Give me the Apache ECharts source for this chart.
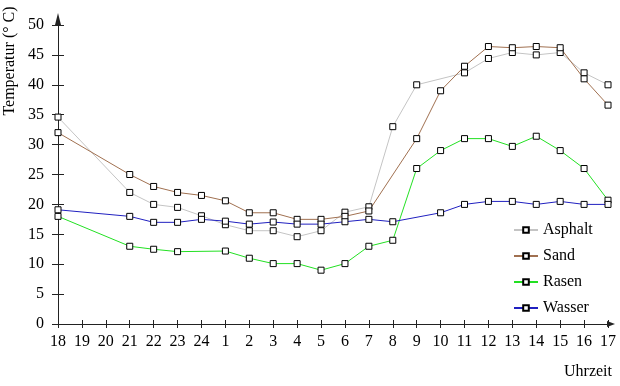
<!DOCTYPE html>
<html>
<head>
<meta charset="utf-8">
<script src="https://cdn.jsdelivr.net/npm/echarts@6/dist/echarts.min.js"></script>
<style>
  html, body { margin: 0; padding: 0; background: #fff; }
</style>
</head>
<body>
<!-- container sized to the reference picture -->
<div id="main" style="width: 620px; height: 386px;"></div>
<script>
var hours = ['18', '19', '20', '21', '22', '23', '24', '1', '2', '3', '4', '5',
  '6', '7', '8', '9', '10', '11', '12', '13', '14', '15', '16', '17']
// null = no measurement at that hour (line runs through)
var asphalt = [34.6, null, null, 22, 20, 19.5, 18.1, 16.6, 15.6, 15.6, 14.6, 15.6,
  18.7, 19.6, 33, 40, null, 42, 44.4, 45.4, 45, 45.4, 42, 40]
var sand = [32, null, null, 25, 23, 22, 21.5, 20.6, 18.6, 18.6, 17.5, 17.5,
  18, 18.9, null, 31, 39, 43.1, 46.4, 46.2, 46.4, 46.2, 41, 36.6]
var rasen = [18, null, null, 13, 12.5, 12.1, null, 12.2, 11, 10.1, 10.1, 9,
  10.1, 13, 14, 26, 29, 31, 31, 29.7, 31.4, 29, 26, 20.7]
var wasser = [19.1, null, null, 18, 17, 17, 17.5, 17.2, 16.7, 17.05, 16.7, 16.7,
  17.1, 17.5, 17.1, null, 18.6, 20, 20.5, 20.5, 20, 20.5, 20, 20]

var font = 'Liberation Serif'
var axisColor = '#222'

function makeSeries (name, color, data) {
  return {
    name: name,
    type: 'line',
    data: data,
    connectNulls: true,
    symbol: 'rect',
    symbolSize: 6,
    lineStyle: { color: color, width: 1 },
    itemStyle: { color: '#fff', borderColor: '#000', borderWidth: 1 },
    emphasis: { disabled: true }
  }
}

var chart = echarts.init(document.getElementById('main'))
chart.setOption({
  animation: false,
  grid: { left: 58, right: 12, top: 25, bottom: 62 },
  legend: {
    orient: 'vertical',
    left: 508,
    top: 217,
    itemWidth: 24,
    itemHeight: 7,
    itemGap: 10,
    textStyle: { fontFamily: font, fontSize: 16, color: '#000' },
    data: ['Asphalt', 'Sand', 'Rasen', 'Wasser']
  },
  xAxis: [
    {
      type: 'category',
      data: hours,
      boundaryGap: false,
      position: 'bottom',
      axisLine: {
        lineStyle: { color: axisColor, width: 1 },
        symbol: ['none', 'triangle'],
        symbolSize: [6, 8],
        symbolOffset: [0, 3]
      },
      axisTick: { inside: false, length: 4, lineStyle: { color: axisColor } },
      axisLabel: { color: '#000', fontFamily: font, fontSize: 16, margin: 10, interval: 0 },
      splitLine: { show: false }
    },
    {
      // second axis only to draw the inner half of the crossing ticks
      type: 'category',
      data: hours,
      boundaryGap: false,
      position: 'bottom',
      axisLine: { show: false },
      axisTick: { inside: true, length: 4, lineStyle: { color: axisColor } },
      axisLabel: { show: false },
      splitLine: { show: false }
    }
  ],
  yAxis: [
    {
      type: 'value',
      min: 0,
      max: 50,
      interval: 5,
      position: 'left',
      axisLine: {
        show: true,
        onZero: false,
        lineStyle: { color: axisColor, width: 1 },
        symbol: ['none', 'triangle'],
        symbolSize: [6, 12],
        symbolOffset: [0, 6]
      },
      axisTick: { show: true, inside: false, length: 6, lineStyle: { color: axisColor } },
      axisLabel: { color: '#000', fontFamily: font, fontSize: 16, margin: 14 },
      splitLine: { show: false }
    },
    {
      type: 'value',
      min: 0,
      max: 50,
      interval: 5,
      position: 'left',
      axisLine: { show: false },
      axisTick: { show: true, inside: true, length: 6, lineStyle: { color: axisColor } },
      axisLabel: { show: false },
      splitLine: { show: false }
    }
  ],
  graphic: [
    {
      type: 'text',
      x: 10,
      y: 61,
      rotation: Math.PI / 2,
      style: {
        text: 'Temperatur (° C)',
        fontFamily: font,
        fontSize: 16,
        fill: '#000',
        align: 'center',
        verticalAlign: 'middle'
      }
    },
    {
      type: 'text',
      x: 612,
      y: 372,
      style: {
        text: 'Uhrzeit',
        fontFamily: font,
        fontSize: 16,
        fill: '#000',
        align: 'right',
        verticalAlign: 'middle'
      }
    }
  ],
  series: [
    makeSeries('Asphalt', '#c4c4c4', asphalt),
    makeSeries('Sand', '#a07050', sand),
    makeSeries('Rasen', '#22e022', rasen),
    makeSeries('Wasser', '#2020c0', wasser)
  ]
})
</script>
</body>
</html>
